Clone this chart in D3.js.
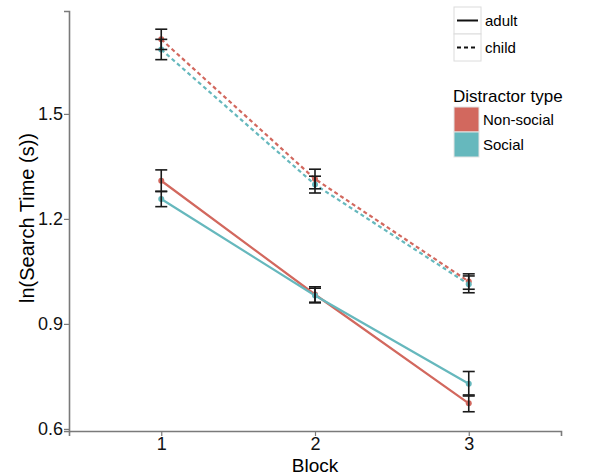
<!DOCTYPE html>
<html>
<head>
<meta charset="utf-8">
<script src="https://d3js.org/d3.v7.min.js"></script>
<style>
  body { margin: 0; background: #fff; }
  svg { font-family: "Liberation Sans", Arial, sans-serif; }
</style>
</head>
<body>
<svg id="chart" width="592" height="475"></svg>
<script>
// data
const blocks = [1, 2, 3];
const groups = ["adult", "child"];
const types = ["Non-social", "Social"];
const yTicks = [0.6, 0.9, 1.2, 1.5];

const adultNonSocial = [1.309, 0.984, 0.673];
const adultNonSocialSe = [0.031, 0.022, 0.024];
const adultSocial = [1.257, 0.981, 0.729];
const adultSocialSe = [0.022, 0.021, 0.035];
const childNonSocial = [1.713, 1.314, 1.021];
const childNonSocialSe = [0.029, 0.028, 0.022];
const childSocial = [1.684, 1.298, 1.013];
const childSocialSe = [0.029, 0.024, 0.024];

const colors = {"Non-social": "#d2685e", "Social": "#66b8bd"};
const dashes = {adult: null, child: "4,3"};

let series = [
  {group: "adult", type: "Non-social", values: adultNonSocial, se: adultNonSocialSe},
  {group: "adult", type: "Social", values: adultSocial, se: adultSocialSe},
  {group: "child", type: "Non-social", values: childNonSocial, se: childNonSocialSe},
  {group: "child", type: "Social", values: childSocial, se: childSocialSe}
];

let chart = d3.select("#chart");

let x = d3.scaleLinear().domain([0.4, 3.6]).range([69, 561]);
let y = d3.scaleLinear().domain([0.594, 1.794]).range([431, 11]);

// axes
let xAxis = chart.append("g")
    .attr("transform", "translate(0,431)")
    .call(d3.axisBottom(x).tickValues(blocks).tickFormat(d3.format("d")).tickSizeOuter(0).tickSize(5));
let yAxis = chart.append("g")
    .attr("transform", "translate(69,0)")
    .call(d3.axisLeft(y).tickValues(yTicks).tickFormat(d3.format(".1f")).tickSizeOuter(0).tickSize(5));

[xAxis, yAxis].forEach(function(g) {
  g.select(".domain").attr("stroke", "#7a7a7a").attr("stroke-width", 1.6);
  g.selectAll(".tick line").attr("stroke", "#7a7a7a").attr("stroke-width", 1.2);
  g.selectAll(".tick text").attr("fill", "#111").style("font-size", "18px");
});
xAxis.selectAll(".tick text").attr("y", 6).attr("dy", "0.71em");
yAxis.selectAll(".tick text").attr("x", -6);

// axis titles
chart.append("text")
    .text("Block")
    .attr("x", 315)
    .attr("y", 472)
    .attr("text-anchor", "middle")
    .style("font-size", "19px");

chart.append("text")
    .text("ln(Search Time (s))")
    .attr("transform", "translate(34,218) rotate(-90)")
    .attr("text-anchor", "middle")
    .style("font-size", "20px");

// lines
let line = d3.line()
    .x(function(d, i) { return x(blocks[i]); })
    .y(function(d) { return y(d); });

chart.selectAll(".series")
    .data(series)
    .enter()
    .append("path")
    .attr("d", function(s) { return line(s.values); })
    .attr("fill", "none")
    .attr("stroke", function(s) { return colors[s.type]; })
    .attr("stroke-width", 2.2)
    .attr("stroke-dasharray", function(s) { return dashes[s.group]; });

// points
series.forEach(function(s) {
  chart.selectAll(null)
      .data(s.values)
      .enter()
      .append("circle")
      .attr("cx", function(d, i) { return x(blocks[i]); })
      .attr("cy", function(d) { return y(d); })
      .attr("r", 3)
      .attr("fill", colors[s.type]);
});

// error bars
series.forEach(function(s) {
  let g = chart.append("g").attr("stroke", "#1a1a1a").attr("stroke-width", 1.6);
  s.values.forEach(function(v, i) {
    let cx = x(blocks[i]);
    let top = y(v + s.se[i]), bot = y(v - s.se[i]);
    g.append("line").attr("x1", cx).attr("x2", cx).attr("y1", top).attr("y2", bot);
    g.append("line").attr("x1", cx - 6).attr("x2", cx + 6).attr("y1", top).attr("y2", top);
    g.append("line").attr("x1", cx - 6).attr("x2", cx + 6).attr("y1", bot).attr("y2", bot);
  });
});

// legend: linetype
groups.forEach(function(gname, i) {
  let ky = 7 + i * 27;
  chart.append("rect")
      .attr("x", 454).attr("y", ky).attr("width", 27).attr("height", 27)
      .attr("fill", "#fff").attr("stroke", "#dcdcdc").attr("stroke-width", 1);
  chart.append("line")
      .attr("x1", 457).attr("x2", 478).attr("y1", ky + 13.5).attr("y2", ky + 13.5)
      .attr("stroke", "#111").attr("stroke-width", 2)
      .attr("stroke-dasharray", dashes[gname]);
  chart.append("text")
      .text(gname)
      .attr("x", 485).attr("y", ky + 13.5)
      .attr("dy", "0.35em")
      .style("font-size", "15px");
});

// legend: distractor type
chart.append("text")
    .text("Distractor type")
    .attr("x", 453).attr("y", 102)
    .style("font-size", "17px");

types.forEach(function(t, i) {
  let ky = 107 + i * 25;
  chart.append("rect")
      .attr("x", 454).attr("y", ky).attr("width", 25).attr("height", 25)
      .attr("fill", colors[t]).attr("stroke", "#e4e4e4").attr("stroke-width", 1);
  chart.append("text")
      .text(t)
      .attr("x", 483).attr("y", ky + 12.5)
      .attr("dy", "0.35em")
      .style("font-size", "15px");
});
</script>
</body>
</html>
